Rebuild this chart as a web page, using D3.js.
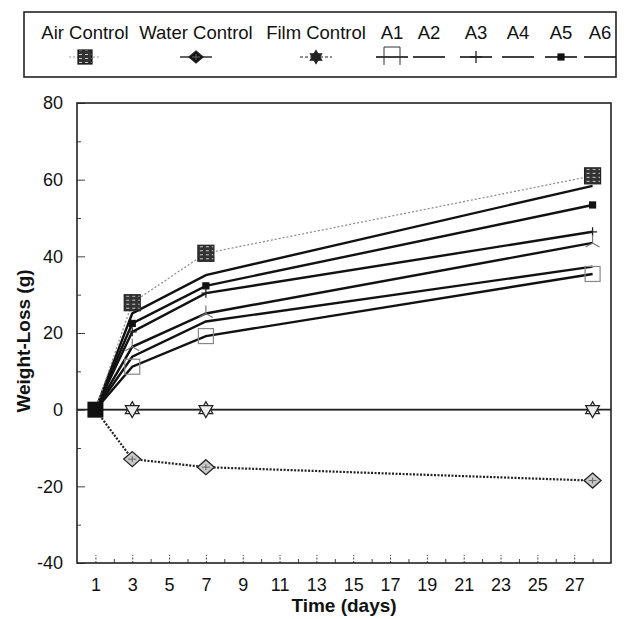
<!DOCTYPE html>
<meta charset="utf-8">
<script src="https://d3js.org/d3.v7.min.js"></script>
<body style="margin:0;background:#fff">
<div id="chart"></div>
</body>
<style>
  text { font-family: "Liberation Sans", Arial, sans-serif; fill: #111; }
</style>
<script>
// data (weight loss in g)
var days = [1, 3, 7, 28];
var airControl   = [0, 27.9, 40.8, 61.0];
var waterControl = [0, -12.9, -15.0, -18.5];
var filmControl  = [0, 0, 0, 0];
var a1 = [0, 11.2, 19.2, 35.4];
var a2 = [0, 13.8, 23.0, 37.3];
var a3 = [0, 20.3, 30.4, 46.4];
var a4 = [0, 16.4, 25.1, 43.5];
var a5 = [0, 22.5, 32.3, 53.4];
var a6 = [0, 25.1, 35.1, 58.4];
var legendNames = ["Air Control", "Water Control", "Film Control", "A1", "A2", "A3", "A4", "A5", "A6"];
var xTicks = [1, 3, 5, 7, 9, 11, 13, 15, 17, 19, 21, 23, 25, 27];
var yTicks = [-40, -20, 0, 20, 40, 60, 80];

var W = 628, H = 619;
var box = {left: 77, right: 611, top: 103, bottom: 563};

var svg = d3.select("#chart").append("svg")
  .attr("width", W).attr("height", H);

var defs = svg.append("defs");
var pat = defs.append("pattern").attr("id", "airfill")
  .attr("patternUnits", "userSpaceOnUse").attr("width", 6).attr("height", 4);
pat.append("rect").attr("width", 6).attr("height", 4).attr("fill", "#333");
pat.append("line").attr("x1", 0).attr("x2", 3).attr("y1", 1.5).attr("y2", 1.5)
  .attr("stroke", "#ccc").attr("stroke-width", 1);

var x = d3.scaleLinear().domain([0, 29]).range([box.left, box.right]);
var y = d3.scaleLinear().domain([-40, 80]).range([box.bottom, box.top]);
var plain = function(d) { return String(d); };

// axes with inward ticks
var xAxis = svg.append("g")
  .attr("transform", "translate(0," + box.bottom + ")")
  .call(d3.axisBottom(x).tickValues(xTicks).tickFormat(plain).tickSizeInner(-8).tickSizeOuter(0).tickPadding(15));
svg.append("g")
  .attr("transform", "translate(0," + box.bottom + ")")
  .call(d3.axisBottom(x).tickValues(d3.range(2, 29, 2)).tickSizeInner(-4).tickSizeOuter(0).tickFormat(""));
var yAxis = svg.append("g")
  .attr("transform", "translate(" + box.left + ",0)")
  .call(d3.axisLeft(y).tickValues(yTicks).tickFormat(plain).tickSizeInner(-8).tickSizeOuter(0).tickPadding(14));
svg.append("g")
  .attr("transform", "translate(" + box.left + ",0)")
  .call(d3.axisLeft(y).tickValues([-30, -10, 10, 30, 50, 70]).tickSizeInner(-4).tickSizeOuter(0).tickFormat(""));

svg.selectAll(".domain").remove();
svg.selectAll(".tick line").attr("stroke", "#444").attr("stroke-width", 1);
xAxis.selectAll(".tick line").attr("stroke-dasharray", "2,1.5");
svg.selectAll(".tick text").style("font-size", "18px").attr("fill", "#111");

// plot frame
svg.append("rect")
  .attr("x", box.left).attr("y", box.top)
  .attr("width", box.right - box.left).attr("height", box.bottom - box.top)
  .attr("fill", "none").attr("stroke", "#222").attr("stroke-width", 1.6);

// axis titles
svg.append("text")
  .attr("x", (box.left + box.right) / 2).attr("y", 612)
  .attr("text-anchor", "middle").style("font-size", "19px").style("font-weight", "bold")
  .text("Time (days)");
svg.append("text")
  .attr("transform", "translate(30," + (y(20) + 8) + ") rotate(-90)")
  .attr("text-anchor", "middle").style("font-size", "19px").style("font-weight", "bold")
  .text("Weight-Loss (g)");

// zero reference line
svg.append("line")
  .attr("x1", box.left).attr("x2", box.right)
  .attr("y1", y(0)).attr("y2", y(0))
  .attr("stroke", "#222").attr("stroke-width", 1.8);

function pts(vals) { return days.map(function(d, i) { return [d, vals[i]]; }); }
var line = d3.line().x(function(d) { return x(d[0]); }).y(function(d) { return y(d[1]); });

// marker drawers
function sq(g, s, fill, stroke) {
  g.append("rect").attr("x", -s / 2).attr("y", -s / 2).attr("width", s).attr("height", s)
    .attr("fill", fill).attr("stroke", stroke).attr("stroke-width", 1.2);
}
function diamond(g, s, fill) {
  g.append("path").attr("d", "M0," + (-s / 2) + "L" + (s / 2 + 1) + ",0L0," + (s / 2) + "L" + (-s / 2 - 1) + ",0Z")
    .attr("fill", fill).attr("stroke", "#222").attr("stroke-width", 1.3);
  g.append("path").attr("d", "M-4,0H4M0,-3V3").attr("stroke", "#666").attr("stroke-width", 1);
}
function star(g, s, fill) {
  var r = s / 2;
  var t1 = [0, 1, 2].map(function(k) { var a = -Math.PI / 2 + k * 2 * Math.PI / 3; return [r * Math.cos(a), r * Math.sin(a)]; });
  var t2 = [0, 1, 2].map(function(k) { var a = Math.PI / 2 + k * 2 * Math.PI / 3; return [r * Math.cos(a), r * Math.sin(a)]; });
  [t1, t2].forEach(function(t) {
    g.append("path").attr("d", "M" + t.join("L") + "Z")
      .attr("fill", fill).attr("stroke", "#222").attr("stroke-width", 1.2);
  });
}
function plus(g, s) {
  g.append("path").attr("d", "M" + (-s / 2) + ",0H" + (s / 2) + "M0," + (-s / 2) + "V" + (s / 2))
    .attr("stroke", "#222").attr("stroke-width", 1.3);
}
function asterisk(g, s) {
  var r = s / 2, d = "";
  [90, 210, 330].forEach(function(a) {
    var rad = a * Math.PI / 180;
    d += "M0,0L" + (r * Math.cos(rad)) + "," + (-r * Math.sin(rad));
  });
  g.append("path").attr("d", d).attr("stroke", "#777").attr("stroke-width", 1.2);
}

var series = [
  {vals: a1, stroke: "#111", width: 2.4, dash: null, mark: function(g) { sq(g, 15, "none", "#888"); }},
  {vals: a2, stroke: "#111", width: 2.4, dash: null, mark: null},
  {vals: a3, stroke: "#111", width: 2.4, dash: null, mark: function(g) { plus(g, 9); }},
  {vals: a4, stroke: "#111", width: 2.4, dash: null, mark: function(g) { asterisk(g, 16); }},
  {vals: a5, stroke: "#111", width: 2.4, dash: null, mark: function(g) { sq(g, 6, "#111", "#111"); }},
  {vals: a6, stroke: "#111", width: 2.4, dash: null, mark: null},
  {vals: airControl, stroke: "#888", width: 1.2, dash: "2,2", mark: function(g) { sq(g, 16, "url(#airfill)", "#222"); }},
  {vals: waterControl, stroke: "#222", width: 2.2, dash: "2,1.5", mark: function(g) { diamond(g, 15, "#c8c8c8"); }},
  {vals: filmControl, stroke: "#222", width: 1.4, dash: null, mark: function(g) { star(g, 16, "#eee"); }}
];

series.forEach(function(s) {
  svg.append("path").datum(pts(s.vals))
    .attr("d", line).attr("fill", "none")
    .attr("stroke", s.stroke).attr("stroke-width", s.width)
    .attr("stroke-dasharray", s.dash);
});
series.forEach(function(s) {
  if (!s.mark) return;
  pts(s.vals).forEach(function(p, i) {
    if (i === 0) return;
    var g = svg.append("g").attr("transform", "translate(" + x(p[0]) + "," + y(p[1]) + ")");
    s.mark(g);
  });
});
// overlapping markers at day 1 form a black blob
svg.append("rect")
  .attr("x", x(days[0]) - 8).attr("y", y(0) - 8).attr("width", 16).attr("height", 16)
  .attr("fill", "#111");

// legend
svg.append("rect").attr("x", 24).attr("y", 12).attr("width", 592).attr("height", 65)
  .attr("fill", "none").attr("stroke", "#222").attr("stroke-width", 1.6);
var legendX = [85, 196, 316, 392, 429, 476, 518, 561, 600];
var legendStyle = [
  {stroke: "#999", width: 1.2, dash: "2,2", mark: function(g) { sq(g, 14, "url(#airfill)", "#111"); }},
  {stroke: "#222", width: 1.4, dash: null, mark: function(g) { diamond(g, 12, "#111"); }},
  {stroke: "#222", width: 1.2, dash: "3,2", mark: function(g) { star(g, 13, "#222"); }},
  {stroke: "#111", width: 1.6, dash: null, mark: function(g) { g.append("path").attr("d", "M-8,8V-10H8V8").attr("fill", "none").attr("stroke", "#333").attr("stroke-width", 1); }},
  {stroke: "#111", width: 1.6, dash: null, mark: null},
  {stroke: "#111", width: 1.6, dash: null, mark: function(g) { plus(g, 12); }},
  {stroke: "#111", width: 1.6, dash: null, mark: null},
  {stroke: "#111", width: 1.6, dash: null, mark: function(g) { sq(g, 6, "#111", "#111"); }},
  {stroke: "#111", width: 1.6, dash: null, mark: null}
];
legendNames.forEach(function(name, i) {
  var cx = legendX[i], st = legendStyle[i];
  svg.append("text").attr("x", cx).attr("y", 39).attr("text-anchor", "middle")
    .style("font-size", "18.5px").text(name);
  svg.append("line").attr("x1", cx - 16).attr("x2", cx + 16).attr("y1", 57).attr("y2", 57)
    .attr("stroke", st.stroke).attr("stroke-width", st.width).attr("stroke-dasharray", st.dash);
  if (st.mark) st.mark(svg.append("g").attr("transform", "translate(" + cx + ",57)"));
});
</script>
